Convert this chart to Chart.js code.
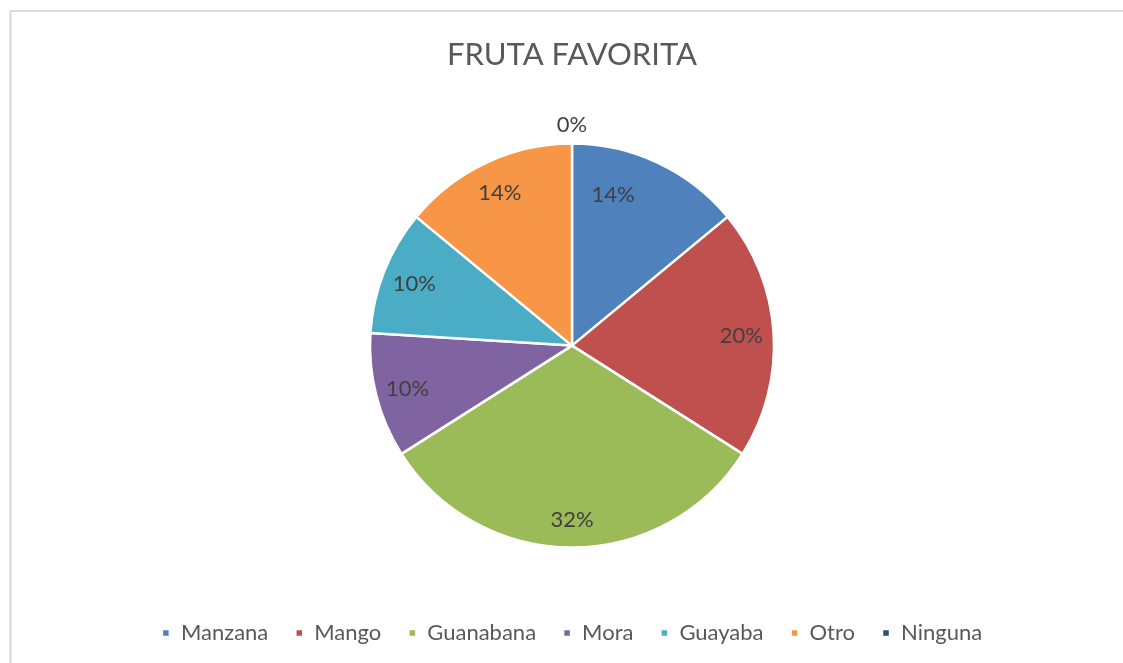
<!DOCTYPE html>
<html>
<head>
<meta charset="utf-8">
<script src="https://cdn.jsdelivr.net/npm/chart.js@4.4.0/dist/chart.umd.min.js"></script>
<style>
  html, body { margin: 0; padding: 0; background: #ffffff; }
  #wrap { width: 1123px; height: 663px; }
</style>
</head>
<body>
<div id="wrap"><canvas id="c" width="1123" height="663"></canvas></div>
<script>
const categories = ['Manzana', 'Mango', 'Guanabana', 'Mora', 'Guayaba', 'Otro', 'Ninguna'];
const values = [7, 10, 16, 5, 5, 7, 0];
const colors = ['#4F81BD', '#C0504D', '#9BBB59', '#8064A2', '#4BACC6', '#F79646', '#2C4D75'];
const chartTitle = 'FRUTA FAVORITA';

const total = values.reduce((a, b) => a + b, 0);
// where along each slice's sweep its label sits (0.5 = middle), and at what fraction of the radius
const labelSweepPos = [0.3, 0.5, 0.5, 0.5, 0.5, 0.5, 0.5];
const labelRadiusPos = [0.78, 0.84, 0.86, 0.84, 0.84, 0.84, 0];

const frame = {
  id: 'frame',
  beforeDraw(chart) {
    const ctx = chart.ctx;
    ctx.save();
    ctx.strokeStyle = '#D9D9D9';
    ctx.lineWidth = 2;
    ctx.beginPath();
    ctx.moveTo(10.5, 663);
    ctx.lineTo(10.5, 11);
    ctx.lineTo(1123, 11);
    ctx.stroke();
    ctx.restore();
  }
};

const pctLabels = {
  id: 'pctLabels',
  afterDatasetsDraw(chart) {
    const ctx = chart.ctx;
    const meta = chart.getDatasetMeta(0);
    ctx.save();
    ctx.font = '22px Lato';
    ctx.fillStyle = '#404040';
    ctx.textAlign = 'center';
    ctx.textBaseline = 'middle';
    meta.data.forEach((arc, i) => {
      const v = values[i];
      const pct = Math.round(v / total * 100) + '%';
      const ang = arc.startAngle + (arc.endAngle - arc.startAngle) * labelSweepPos[i];
      const r = v === 0 ? arc.outerRadius + 20 : arc.outerRadius * labelRadiusPos[i];
      const x = arc.x + Math.cos(ang) * r;
      const y = arc.y + Math.sin(ang) * r + 1;
      ctx.fillText(pct, x, y);
    });
    ctx.restore();
  }
};

new Chart(document.getElementById('c'), {
  type: 'pie',
  data: {
    labels: categories,
    datasets: [{
      data: values,
      backgroundColor: colors,
      borderColor: '#ffffff',
      borderWidth: 2.5
    }]
  },
  options: {
    responsive: false,
    animation: false,
    radius: 202,
    layout: { padding: { left: 21, right: 0, top: 0, bottom: 9 } },
    plugins: {
      title: {
        display: true,
        text: chartTitle,
        color: '#595959',
        font: { family: 'Lato', size: 31, weight: 'normal' },
        padding: { top: 36, bottom: 23 }
      },
      legend: {
        position: 'bottom',
        labels: {
          color: '#595959',
          font: { family: 'Lato', size: 22 },
          boxWidth: 8,
          boxHeight: 8,
          padding: 27
        }
      },
      tooltip: { enabled: false }
    }
  },
  plugins: [frame, pctLabels]
});
</script>
</body>
</html>
